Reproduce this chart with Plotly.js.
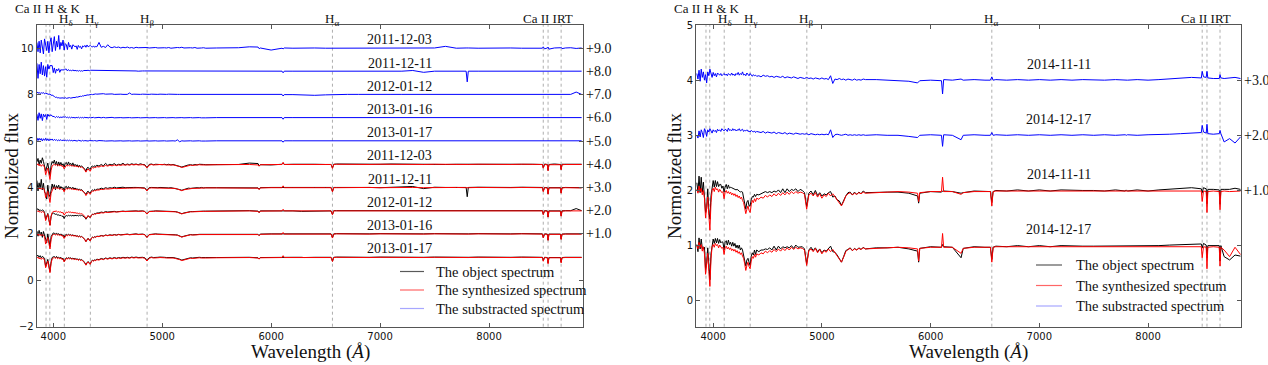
<!DOCTYPE html>
<html><head><meta charset="utf-8">
<script src="https://cdn.plot.ly/plotly-3.0.1.min.js"></script>
<style>html,body{margin:0;padding:0;background:#fff}</style>
</head><body>
<div id="chart" style="width:1268px;height:365px"></div>
<script>
// Wavelength grid (Angstrom)
const wavelength = [
3850,3860,3870,3880,3890,3900,3910,3920,3930,3940,3950,3960,3970,3980,3990,4000,4010,4020,4030,4040,4050,4060,4070,4080,4090,4100,4110,4120,4130,4140,4150,4160,4170,4180,4190,4200,4210,4220,4230,4240,4250,4260,4270,4280,4290,4300,4310,4320,4330,4340,4350,4360,4370,4380,4390,4400,
4420,4440,4460,4480,4500,4520,4540,4560,4580,4600,4620,4640,4660,4680,4700,4720,4740,4760,4780,4800,4820,4840,4860,4880,4900,4920,4940,4960,4980,5000,5020,5040,5060,5080,5100,5120,5140,5160,5180,5200,5220,5240,5260,5280,5300,5320,5340,5360,5380,5400,
5500,5600,5700,5800,5880,5890,5900,6000,6100,6110,6120,6200,6280,6300,6400,6500,6550,6563,6575,6600,6700,6800,6900,7000,7100,7200,7300,7400,7500,7600,7700,7790,7800,7810,7900,8000,8100,8200,8300,8400,8490,8498,8510,8535,8542,8550,8600,8655,8662,8670,8700,8750,8800,8850];

// Normalized flux in percent. obj = object, syn = synthesized, sub = object - synthesized (percent)
const obj_20111203 = [
110,125,98,118,104,128,112,96,70,88,105,75,52,95,112,104,118,99,112,92,110,96,108,95,102,88,104,108,96,110,98,104,94,106,92,100,93,98,88,96,89,93,86,83,79,70,84,87,80,78,90,92,88,94,90,96,
92,99,93,104,95,100,97,103,96,100,98,104,97,101,98,102,99,101,98,102,99,98,86,99,101,98,100,99,101,98,100,98,100,97,99,96,96,92,88,91,95,97,98,96,99,97,100,98,99,98,
99,100,99,105,103,92,98,97,100,106,99,100,99,98,100,99,99,84,100,101,100,101,100,100,101,100,101,100,100,99,100,99,100,99,100,100,101,100,100,100,99,85,101,99,74,99,101,99,78,100,100,99,99,100];
const syn_20111203 = [
96,102,93,99,91,98,95,87,55,68,84,58,34,74,93,97,99,95,100,94,98,93,97,90,93,80,91,96,92,97,93,96,91,95,90,94,89,92,87,91,86,89,84,81,74,66,75,80,73,70,81,86,83,88,85,90,
88,93,90,95,92,96,93,97,94,97,95,98,96,98,96,99,97,99,97,99,98,96,84,96,99,97,99,98,99,97,98,97,98,96,97,95,94,90,86,89,93,95,96,95,97,96,98,97,98,97,
98,99,98,99,97,92,98,99,99,108,99,99,99,98,99,99,99,82,99,100,99,100,99,100,99,100,100,99,100,99,100,99,100,99,100,99,100,99,100,99,99,83,99,98,72,98,99,98,76,98,99,99,98,99];
const sub_20111203 = [
25,-15,30,-20,35,10,-25,40,15,-10,30,-20,25,45,-15,20,50,-10,30,5,55,-5,25,10,35,-8,20,15,-6,25,5,12,-4,15,8,6,10,-5,12,4,8,-3,10,6,12,4,14,6,9,12,7,5,10,4,8,6,
25,4,8,3,15,5,2,6,3,5,1,4,2,5,1,3,0,4,2,3,1,2,3,1,2,0,3,1,2,0,2,1,3,0,2,1,3,2,4,1,2,0,2,1,3,0,2,1,2,0,
1,0,2,6,5,-2,1,-8,0,-3,1,0,1,0,1,0,0,3,0,1,0,1,0,0,1,0,1,0,1,8,0,1,0,1,0,1,0,1,0,1,0,6,-3,1,5,-4,1,2,4,-2,1,2,-1,1];

const obj_20111211 = [
130,85,120,95,135,90,118,80,75,50,110,70,60,100,115,95,112,90,108,98,110,92,104,96,100,86,102,105,95,104,97,100,94,101,93,98,92,95,89,94,88,91,86,84,78,70,80,84,77,76,85,90,86,92,88,93,
92,97,94,99,96,99,97,101,98,100,99,101,99,100,99,101,100,100,99,101,100,98,87,99,100,99,100,99,100,99,99,100,98,99,97,98,95,91,88,92,94,97,96,98,97,99,98,100,98,99,
99,99,100,99,98,92,99,100,100,101,100,100,99,99,100,100,100,83,100,100,101,100,100,99,101,100,104,95,101,100,101,100,60,100,101,100,101,100,101,100,100,84,100,99,73,99,100,99,77,99,100,99,100,99];
const syn_20111211 = [
97,101,94,98,92,97,96,88,56,69,83,59,35,75,92,98,98,96,99,95,97,94,96,91,92,81,92,95,93,96,94,95,92,94,91,93,90,91,88,90,87,88,85,80,75,65,76,79,74,71,80,85,84,87,86,89,
89,92,91,94,93,95,94,96,95,96,96,97,97,97,97,98,98,98,98,98,98,96,85,97,98,98,98,98,98,98,97,98,97,97,96,96,93,89,86,90,92,95,95,96,96,97,97,98,97,98,
98,98,99,98,97,91,98,99,99,107,99,99,98,98,99,99,99,81,99,99,100,99,100,99,100,99,100,99,100,99,100,99,100,99,100,99,100,99,100,99,99,82,99,98,71,98,99,98,75,98,99,98,99,98];
const sub_20111211 = [
35,-30,30,-10,40,-15,25,-20,20,-25,30,10,25,25,25,-5,15,-8,10,3,12,-4,8,5,8,5,10,10,2,8,3,5,2,7,2,5,2,4,1,4,1,3,1,4,3,5,4,5,3,5,5,5,2,5,2,4,
3,5,3,5,3,4,3,5,3,4,3,4,2,3,2,3,2,2,1,3,2,2,2,2,2,1,2,1,2,1,2,2,1,2,1,2,2,2,2,2,2,2,1,2,1,2,1,2,1,1,
1,1,1,1,1,1,1,1,1,-6,1,1,1,1,1,1,1,2,1,1,1,1,0,0,1,1,4,-4,1,1,1,1,-45,1,1,1,1,1,1,1,1,2,1,1,2,1,1,1,2,1,1,1,1,1];

const obj_20120112 = [
105,108,100,104,99,103,101,92,62,75,88,62,38,74,88,90,88,84,86,80,82,79,80,75,77,66,76,79,77,80,78,80,77,80,77,80,78,80,77,80,78,80,78,75,71,63,73,78,73,71,80,85,84,88,87,90,
90,94,92,96,94,96,95,97,95,97,96,98,97,98,97,99,98,99,98,99,99,97,86,97,99,98,99,99,99,98,98,98,98,97,97,96,94,90,87,90,93,95,96,96,97,97,98,98,98,98,
99,99,99,100,98,92,99,100,100,100,99,99,97,97,96,98,99,83,100,100,100,101,100,100,100,101,100,100,101,100,101,100,101,100,101,100,101,100,101,100,100,84,100,99,73,99,100,99,78,99,100,100,109,100];
const syn_20120112 = [
95,100,94,97,92,96,95,88,57,70,84,60,36,76,92,96,97,95,98,94,96,93,95,90,92,81,91,94,92,95,93,94,91,93,90,92,89,90,87,89,86,87,84,80,75,66,75,79,74,71,80,84,83,86,85,88,
88,91,90,93,92,94,93,95,94,96,95,97,96,97,96,98,97,98,97,98,98,96,85,96,98,97,98,98,98,97,97,97,97,96,96,95,93,89,86,89,92,94,95,95,96,96,97,97,97,97,
98,98,98,99,97,91,98,99,99,106,99,99,99,98,99,99,99,82,99,99,99,100,99,100,99,100,99,99,100,99,100,99,100,99,100,99,100,99,100,99,99,83,99,98,72,98,99,98,76,98,99,99,98,99];
const sub_20120112 = [
12,6,9,5,8,6,9,3,6,4,5,1,3,-3,-2,-7,-8,-12,-10,-15,-13,-15,-14,-16,-14,-16,-13,-16,-14,-15,-13,-15,-13,-14,-12,-13,-10,-11,-9,-10,-7,-8,-5,-6,-3,-4,-1,-2,0,-1,1,0,2,1,3,2,
3,1,4,2,3,1,3,1,2,1,2,1,2,1,7,1,2,1,2,1,2,1,1,1,2,1,1,1,2,1,1,1,2,1,1,1,1,1,1,1,1,1,1,1,1,1,1,1,1,1,
1,1,1,1,1,1,1,1,1,-6,0,0,-2,-1,-3,-1,0,1,1,1,1,1,0,1,1,1,1,1,1,1,1,1,1,1,1,1,1,1,1,1,1,1,1,1,1,1,1,1,2,1,1,1,11,1];

const obj_20130116 = [
112,90,115,96,108,85,110,92,70,62,100,66,45,88,100,104,103,98,104,97,101,95,100,93,96,84,95,98,94,99,95,97,93,96,92,94,90,92,88,91,87,89,85,82,76,67,76,81,74,71,82,86,84,88,86,90,
89,93,91,95,93,96,94,97,95,98,96,98,97,99,97,99,98,100,98,99,99,97,85,97,99,98,100,99,99,98,99,98,98,97,98,96,95,91,87,90,93,96,97,96,98,97,98,98,99,98,
99,100,99,100,98,93,99,100,100,100,100,100,100,99,100,100,100,83,100,101,100,101,100,101,100,101,101,100,101,100,101,100,101,100,101,100,101,100,101,100,100,84,100,99,73,99,100,99,77,99,100,100,99,100];
const syn_20130116 = [
96,101,93,98,91,97,94,87,56,69,84,59,35,75,93,97,98,95,99,94,97,93,96,90,92,80,91,95,92,96,93,95,91,94,90,93,89,91,87,90,86,88,84,81,74,66,75,80,73,70,81,85,83,87,85,89,
88,92,90,94,92,95,93,96,94,97,95,97,96,98,96,98,97,99,97,98,98,96,84,96,98,97,99,98,98,97,98,97,97,96,97,95,94,90,86,89,92,95,96,95,97,96,97,97,98,97,
98,99,98,99,97,92,98,99,99,106,99,99,99,98,99,99,99,82,99,100,99,100,99,100,99,100,100,99,100,99,100,99,100,99,100,99,100,99,100,99,99,83,99,98,72,98,99,98,76,98,99,99,98,99];
const sub_20130116 = [
16,-11,22,-2,17,-12,16,5,14,-7,16,7,10,13,7,7,5,1,6,2,5,0,4,1,5,2,5,1,3,0,3,-1,3,0,2,-1,2,0,3,-1,2,0,2,-1,3,0,2,-1,2,0,1,-1,2,0,1,0,
2,0,2,0,1,0,2,0,1,0,1,0,1,0,1,0,1,0,1,0,1,0,1,0,1,0,1,0,1,0,1,0,1,0,1,0,1,0,1,0,1,0,1,0,1,0,1,0,1,0,
1,1,1,1,1,1,1,1,1,-6,1,1,1,1,1,1,1,1,1,1,1,1,1,1,1,1,1,1,1,1,1,1,1,1,1,1,1,1,1,1,1,2,1,1,3,1,1,1,2,1,1,1,1,1];

const obj_20130117 = [
104,108,99,106,97,103,100,92,60,72,90,62,38,80,98,101,102,98,103,96,100,95,99,92,95,82,93,97,94,98,95,97,92,96,91,95,90,93,88,92,87,90,85,82,75,67,76,81,74,71,82,87,84,89,86,91,
89,94,91,96,93,97,94,98,95,98,96,99,97,99,97,100,98,100,98,100,99,97,85,97,100,98,100,99,100,98,99,98,99,97,98,96,95,91,87,90,94,96,97,96,98,97,99,98,99,98,
98,99,98,99,97,92,98,99,99,101,99,99,99,98,99,99,99,82,99,100,99,100,99,100,99,100,100,99,100,99,100,99,100,99,100,99,100,99,100,99,99,85,99,98,75,98,99,98,78,98,99,99,98,99];
const syn_20130117 = [
95,100,92,97,90,96,94,86,54,67,83,57,33,73,92,96,98,94,99,93,97,92,96,89,92,79,90,95,91,96,92,95,90,94,89,93,88,91,86,90,85,88,83,80,73,65,74,79,72,69,80,85,82,87,84,89,
87,92,89,94,91,95,92,96,93,96,94,97,95,97,95,98,96,98,96,98,97,95,83,95,98,96,98,97,98,96,97,96,97,95,96,94,93,89,85,88,92,94,95,94,96,95,97,96,97,96,
97,98,97,98,96,91,97,98,98,106,98,98,98,97,98,98,98,81,98,99,98,99,98,99,98,99,99,98,99,98,99,98,99,98,99,98,99,98,99,98,98,82,98,97,71,97,98,97,75,97,98,98,97,98];
const sub_20130117 = [
14,2,12,4,11,0,10,3,12,2,10,1,8,4,9,2,7,3,6,1,5,2,6,1,5,1,4,1,5,0,4,1,3,0,3,1,2,0,3,1,2,0,3,0,2,1,3,0,2,1,2,0,1,2,1,0,
2,0,1,0,1,0,1,0,1,0,1,0,1,0,1,0,1,0,1,0,1,0,1,0,1,0,1,0,1,0,1,0,1,0,1,0,5,-3,1,0,1,0,1,0,1,0,1,0,1,0,
1,1,1,1,1,1,1,1,1,-5,1,1,1,1,1,1,1,1,1,1,1,1,1,1,1,1,1,1,1,1,1,1,1,1,1,1,1,1,1,1,1,3,1,1,4,1,1,1,3,1,1,1,1,1];

const obj_20141111 = [
114,97,126,96,124,97,115,86,60,67,103,63,48,90,105,118,106,118,107,116,107,111,111,104,108,97,106,111,103,110,104,106,105,104,102,102,101,102,101,99,97,98,97,87,79,66,79,82,72,72,83,89,88,93,89,93,
92,94,95,98,96,98,96,99,97,101,96,103,96,103,98,102,100,103,98,102,100,96,71,95,99,92,100,91,96,90,94,92,96,98,88,90,83,81,73,82,90,96,97,92,97,93,97,94,99,96,
97,97,97,95,90,77,95,98,97,99,99,98,95,96,99,98,98,78,98,100,99,101,99,101,99,101,100,100,100,99,101,99,101,99,101,99,101,102,104,105,103,96,105,103,76,102,102,101,75,102,102,102,104,102];
const syn_20141111 = [
102,95,108,98,104,92,100,86,50,72,88,55,28,78,100,104,98,106,101,103,97,102,99,96,98,85,97,100,95,98,94,97,92,95,91,94,89,92,87,90,85,88,82,78,68,58,66,72,64,60,74,82,78,85,80,86,
84,88,86,91,88,92,89,94,90,95,91,96,92,97,93,98,94,98,95,97,96,93,66,92,95,90,96,88,94,86,92,89,95,90,94,88,82,78,72,80,90,94,96,92,95,93,96,94,97,95,
96,97,98,97,95,80,96,98,98,124,98,98,93,96,98,98,98,72,98,99,99,100,99,100,99,100,100,99,100,99,100,99,100,99,100,99,100,100,100,100,99,80,99,98,60,98,99,98,65,98,99,98,99,99];
const sub_20141111 = [
12,2,18,-2,20,5,15,0,10,-5,15,8,20,12,5,14,8,12,6,13,10,9,12,8,10,12,9,11,8,12,10,9,13,9,11,8,12,10,14,9,12,10,15,9,11,8,13,10,8,12,9,7,10,8,9,7,
8,6,9,7,8,6,7,5,7,6,5,7,4,6,5,4,6,5,3,5,4,3,5,3,4,2,4,3,2,4,2,3,1,8,-6,2,1,3,1,2,0,2,1,0,2,0,1,0,2,1,
1,0,-1,-2,-5,-3,-1,0,-1,-25,1,0,2,0,1,0,0,6,0,1,0,1,0,1,0,1,0,1,0,0,1,0,1,0,1,0,1,2,4,5,4,16,6,5,16,4,3,3,10,4,3,4,5,3];

const obj_20141217 = [
102,89,114,94,112,95,94,97,56,68,96,59,38,85,102,112,104,113,105,113,104,111,105,107,106,92,107,109,101,110,102,106,99,106,99,104,96,101,95,101,92,96,92,84,76,63,74,77,70,64,81,87,83,92,84,92,
89,92,92,94,93,96,92,99,92,99,94,98,96,98,96,100,95,101,97,98,98,94,67,92,97,91,96,89,94,87,92,90,95,99,89,88,83,77,70,80,91,93,96,91,95,92,96,93,97,94,
96,96,97,94,90,70,95,98,97,102,98,97,78,95,98,97,97,75,97,99,98,100,98,100,98,100,99,99,99,99,99,99,99,99,99,99,100,101,102,103,103,96,104,101,78,100,100,100,72,100,80,74,83,81];
const syn_20141217 = [
100,94,106,97,102,90,98,85,48,70,86,53,26,76,98,102,97,104,100,102,96,101,98,95,97,84,96,99,94,97,93,96,91,94,90,93,88,91,86,89,84,87,81,77,67,55,64,70,62,58,72,80,77,84,79,85,
83,87,85,90,87,91,88,93,89,94,90,95,91,96,92,97,93,97,94,96,95,92,64,91,94,89,95,87,93,85,91,88,94,89,93,87,81,76,70,79,89,93,95,91,94,92,95,93,96,94,
95,96,97,96,94,72,95,97,97,122,97,97,86,95,97,97,97,70,97,98,98,99,98,99,98,99,99,98,99,98,99,98,99,98,99,98,99,99,99,99,98,78,98,97,58,97,98,97,63,97,92,80,97,84];
const sub_20141217 = [
0,-5,8,-3,10,5,-4,12,8,-2,10,6,12,9,4,10,7,9,5,11,8,10,7,12,9,8,11,10,7,13,9,10,8,12,9,11,8,10,9,12,8,9,11,7,9,8,10,7,8,6,9,7,6,8,5,7,
6,5,7,4,6,5,4,6,3,5,4,3,5,2,4,3,2,4,3,2,3,2,3,1,3,2,1,2,1,2,1,2,1,10,-4,1,2,1,0,1,2,0,1,0,1,0,1,0,1,0,
1,0,0,-2,-4,-2,0,1,0,-20,1,0,-8,0,1,0,0,5,0,1,0,1,0,1,0,1,0,1,0,1,0,1,0,1,0,1,1,2,3,4,5,18,6,4,20,3,2,3,9,3,-12,-6,-14,-3];

// Panel groupings
const leftDates = ['2011-12-03','2011-12-11','2012-01-12','2013-01-16','2013-01-17'];
const leftObj = [obj_20111203, obj_20111211, obj_20120112, obj_20130116, obj_20130117];
const leftSyn = [syn_20111203, syn_20111211, syn_20120112, syn_20130116, syn_20130117];
const leftSub = [sub_20111203, sub_20111211, sub_20120112, sub_20130116, sub_20130117];
const leftSubOffsets = [9, 8, 7, 6, 5];
const leftSpecOffsets = [4, 3, 2, 1, 0];

const rightDates = ['2014-11-11','2014-12-17'];
const rightObj = [obj_20141111, obj_20141217];
const rightSyn = [syn_20141111, syn_20141217];
const rightSub = [sub_20141111, sub_20141217];
const rightSubOffsets = [3, 2];
const rightSpecOffsets = [1, 0];

const lineWavelengths = [3933.7, 3968.5, 4101.7, 4340.5, 4861.3, 6562.8, 8498.0, 8542.1, 8662.1];
const topLabels = ['Ca II H &amp; K', 'H<sub>δ</sub>', 'H<sub>γ</sub>', 'H<sub>β</sub>', 'H<sub>α</sub>', 'Ca II IRT'];
const topLabelWave = [3950, 4118, 4352, 4863, 6562, 8538];
const legendNames = ['The object spectrum', 'The synthesized spectrum', 'The substracted spectrum'];

const W = 1268, H = 365;
const px = v => v / W, py = v => 1 - v / H;
const SERIF = 'Liberation Serif';

const traces = [];
function addPanel(xa, ya, objs, syns, subs, specOff, subOff) {
  for (let i = 0; i < objs.length; i++) {
    traces.push({x: wavelength, y: objs[i].map(v => v / 100 + specOff[i]), xaxis: xa, yaxis: ya, type: 'scatter', mode: 'lines', line: {color: '#000000', width: 1}, showlegend: false, hoverinfo: 'skip'});
    traces.push({x: wavelength, y: syns[i].map(v => v / 100 + specOff[i]), xaxis: xa, yaxis: ya, type: 'scatter', mode: 'lines', line: {color: '#ff0000', width: 1}, showlegend: false, hoverinfo: 'skip'});
  }
  for (let i = 0; i < subs.length; i++) {
    traces.push({x: wavelength, y: subs[i].map(v => 1 + v / 100 + subOff[i]), xaxis: xa, yaxis: ya, type: 'scatter', mode: 'lines', line: {color: '#0000ff', width: 1}, showlegend: false, hoverinfo: 'skip'});
  }
}
addPanel('x', 'y', leftObj, leftSyn, leftSub, leftSpecOffsets, leftSubOffsets);
addPanel('x2', 'y2', rightObj, rightSyn, rightSub, rightSpecOffsets, rightSubOffsets);

const shapes = [];
const annotations = [];
[['x', 'y'], ['x2', 'y2']].forEach(([xa, ya]) => {
  lineWavelengths.forEach(w => shapes.push({type: 'line', xref: xa, yref: ya + ' domain', x0: w, x1: w, y0: 0, y1: 1, layer: 'below', line: {color: '#999999', width: 0.8, dash: 'dot'}}));
});

// top line labels
const topY = [8, 19, 19, 19, 19, 18];
const topYRight = [8, 19, 19, 19, 19, 18];
topLabels.forEach((t, i) => {
  annotations.push({text: t, xref: 'x', yref: 'paper', x: topLabelWave[i], y: py(topY[i]), xanchor: 'center', yanchor: 'middle', showarrow: false, borderpad: 0, font: {family: SERIF, size: 13, color: '#111'}});
  annotations.push({text: t, xref: 'x2', yref: 'paper', x: topLabelWave[i] - 8, y: py(topYRight[i]), xanchor: 'center', yanchor: 'middle', showarrow: false, borderpad: 0, font: {family: SERIF, size: 13, color: '#111'}});
});

// date and offset labels
function fmtOff(o) { return '+' + o.toFixed(1); }
leftDates.forEach((d, i) => {
  annotations.push({text: d, xref: 'x', yref: 'y', x: 7180, y: leftSubOffsets[i] + 1 + 0.36, xanchor: 'center', yanchor: 'middle', showarrow: false, font: {family: SERIF, size: 14, color: '#111'}});
  annotations.push({text: d, xref: 'x', yref: 'y', x: 7180, y: leftSpecOffsets[i] + 1 + 0.36, xanchor: 'center', yanchor: 'middle', showarrow: false, font: {family: SERIF, size: 14, color: '#111'}});
  annotations.push({text: fmtOff(leftSubOffsets[i]), xref: 'paper', yref: 'y', x: px(584), y: leftSubOffsets[i] + 1, xanchor: 'left', yanchor: 'middle', showarrow: false, font: {family: SERIF, size: 14, color: '#111'}});
  if (leftSpecOffsets[i] > 0) annotations.push({text: fmtOff(leftSpecOffsets[i]), xref: 'paper', yref: 'y', x: px(584), y: leftSpecOffsets[i] + 1, xanchor: 'left', yanchor: 'middle', showarrow: false, font: {family: SERIF, size: 14, color: '#111'}});
});
rightDates.forEach((d, i) => {
  annotations.push({text: d, xref: 'x2', yref: 'y2', x: 7180, y: rightSubOffsets[i] + 1 + 0.29, xanchor: 'center', yanchor: 'middle', showarrow: false, font: {family: SERIF, size: 14, color: '#111'}});
  annotations.push({text: d, xref: 'x2', yref: 'y2', x: 7180, y: rightSpecOffsets[i] + 1 + 0.29, xanchor: 'center', yanchor: 'middle', showarrow: false, font: {family: SERIF, size: 14, color: '#111'}});
  annotations.push({text: fmtOff(rightSubOffsets[i]), xref: 'paper', yref: 'y2', x: px(1242), y: rightSubOffsets[i] + 1, xanchor: 'left', yanchor: 'middle', showarrow: false, font: {family: SERIF, size: 14, color: '#111'}});
  if (rightSpecOffsets[i] > 0) annotations.push({text: fmtOff(rightSpecOffsets[i]), xref: 'paper', yref: 'y2', x: px(1242), y: rightSpecOffsets[i] + 1, xanchor: 'left', yanchor: 'middle', showarrow: false, font: {family: SERIF, size: 14, color: '#111'}});
});

// axis titles
[[310, 11], [968, 674]].forEach(([cx, ly]) => {
  annotations.push({text: 'Wavelength (<i>Å</i>)', xref: 'paper', yref: 'paper', x: px(cx), y: py(352), xanchor: 'center', yanchor: 'middle', showarrow: false, font: {family: SERIF, size: 19, color: '#111'}});
  annotations.push({text: 'Normolized flux', xref: 'paper', yref: 'paper', x: px(ly), y: py(176), xanchor: 'center', yanchor: 'middle', textangle: -90, showarrow: false, font: {family: SERIF, size: 19, color: '#111'}});
});

// legends (drawn manually)
const legColors = ['rgba(0,0,0,0.65)', 'rgba(255,0,0,0.6)', 'rgba(60,60,255,0.45)'];
function legend(x0, x1, tx, rows) {
  legendNames.forEach((n, i) => {
    shapes.push({type: 'line', xref: 'paper', yref: 'paper', x0: px(x0), x1: px(x1), y0: py(rows[i]), y1: py(rows[i]), line: {color: legColors[i], width: 1.2}});
    annotations.push({text: n, xref: 'paper', yref: 'paper', x: px(tx), y: py(rows[i]), xanchor: 'left', yanchor: 'middle', showarrow: false, font: {family: SERIF, size: 14.5, color: '#111'}});
  });
}
legend(400, 424, 434, [271.5, 290, 308.5]);
legend(1036, 1062, 1074, [265, 285.5, 306]);

const axCommon = {showgrid: false, zeroline: false, showline: true, linecolor: '#555', linewidth: 1, mirror: 'ticks', ticks: 'inside', ticklen: 4, tickwidth: 1, tickcolor: '#555', tickfont: {family: 'DejaVu Sans', size: 10, color: '#111'}};
const layout = {
  width: W, height: H, margin: {l: 0, r: 0, t: 0, b: 0}, paper_bgcolor: '#fff', plot_bgcolor: '#fff', showlegend: false,
  font: {family: SERIF},
  xaxis: Object.assign({}, axCommon, {domain: [px(36.7), px(582.7)], range: [3848, 8860], tickvals: [4000, 5000, 6000, 7000, 8000], anchor: 'y'}),
  yaxis: Object.assign({}, axCommon, {domain: [py(326.7), py(25)], range: [-2, 11], tickvals: [-2, 0, 2, 4, 6, 8, 10], anchor: 'x'}),
  xaxis2: Object.assign({}, axCommon, {domain: [px(696), px(1241)], range: [3842, 8855], tickvals: [4000, 5000, 6000, 7000, 8000], anchor: 'y2'}),
  yaxis2: Object.assign({}, axCommon, {domain: [py(326.7), py(25)], range: [-0.47, 5], tickvals: [0, 1, 2, 3, 4, 5], anchor: 'x2'}),
  shapes: shapes, annotations: annotations
};
Plotly.newPlot('chart', traces, layout, {displayModeBar: false, staticPlot: true});
</script>
</body></html>
